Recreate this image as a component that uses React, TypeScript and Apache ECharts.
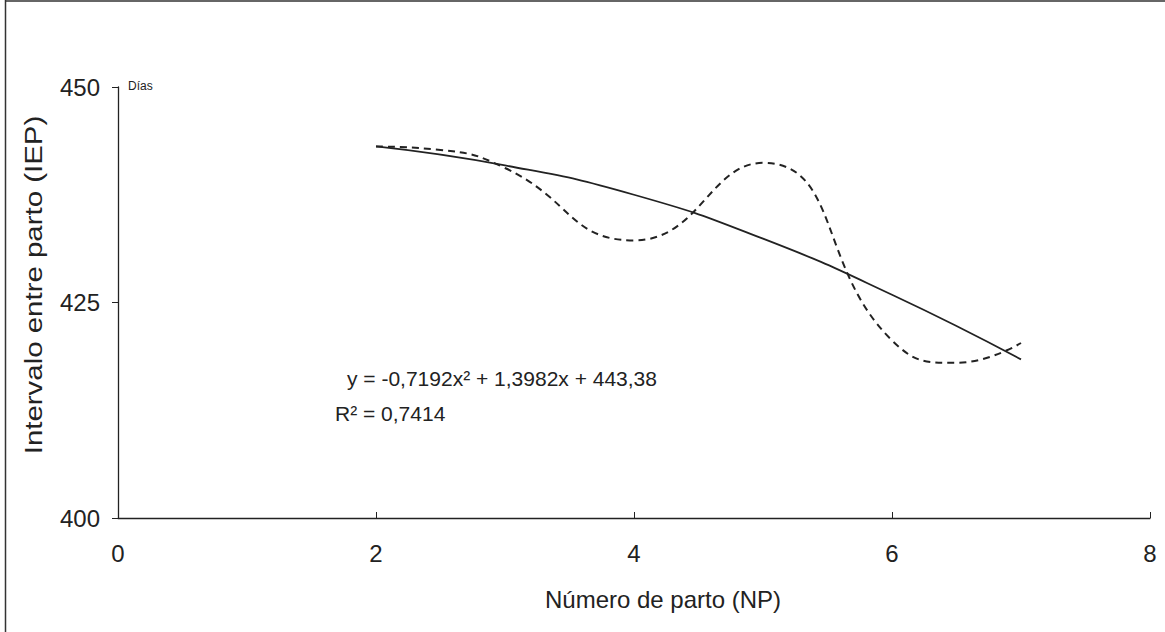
import React, { useEffect, useRef } from "react";
import * as echarts from "echarts";

const xTicks = [0, 2, 4, 6, 8];
const yTicks = [400, 425, 450];
const observedX = [2, 2.5, 3, 4, 5, 6, 6.5, 7];
const observedY = [443.1, 442.7, 440.6, 432.2, 441.2, 420.6, 418.0, 420.3];
// Polynomial trend line (solid)
const trendX = [2, 3, 4, 5, 6, 7];
const trendY = [443.1, 440.9, 437.5, 432.4, 425.9, 418.4];

const equationText = "y = -0,7192x² + 1,3982x + 443,38";
const r2Text = "R² = 0,7414";
const xTitle = "Número de parto (NP)";
const yTitle = "Intervalo entre parto (IEP)";
const unitText = "Días";

export default function App() {
  const ref = useRef<HTMLDivElement>(null);
  useEffect(() => {
    if (!ref.current) return;
    const chart = echarts.init(ref.current, null, { renderer: "svg" });
    const font = "'Liberation Sans', Arial, sans-serif";
    const ink = "#222";
    chart.setOption({
      animation: false,
      backgroundColor: "#fff",
      textStyle: { fontFamily: font },
      grid: { left: 118, right: 15, top: 87, bottom: 114 },
      xAxis: {
        type: "value",
        min: xTicks[0],
        max: xTicks[xTicks.length - 1],
        interval: 2,
        axisLine: { lineStyle: { color: ink, width: 1.3 } },
        axisTick: { inside: true, length: 6, lineStyle: { color: ink } },
        axisLabel: { fontSize: 24, color: ink, margin: 23, fontFamily: font },
        splitLine: { show: false },
      },
      yAxis: {
        type: "value",
        min: yTicks[0],
        max: yTicks[yTicks.length - 1],
        interval: 25,
        axisLine: { show: true, lineStyle: { color: ink, width: 1.3 } },
        axisTick: { show: true, inside: false, length: 6, lineStyle: { color: ink } },
        axisLabel: { fontSize: 24, color: ink, margin: 18, fontFamily: font },
        splitLine: { show: false },
      },
      series: [
        {
          type: "line",
          name: "Observado",
          data: observedX.map((x, i) => [x, observedY[i]]),
          smooth: 0.5,
          showSymbol: false,
          symbol: "none",
          lineStyle: { color: ink, width: 2, type: [7, 5] },
        },
        {
          type: "line",
          name: "Tendencia",
          data: trendX.map((x, i) => [x, trendY[i]]),
          smooth: 0.5,
          showSymbol: false,
          symbol: "none",
          lineStyle: { color: ink, width: 1.8, type: "solid" },
        },
      ],
      graphic: [
        { type: "line", shape: { x1: 5.5, y1: 0, x2: 5.5, y2: 632 }, style: { stroke: "#333", lineWidth: 1.5 } },
        { type: "line", shape: { x1: 5, y1: 1, x2: 1165, y2: 1 }, style: { stroke: "#333", lineWidth: 1.5 } },
        {
          type: "text",
          x: 128,
          y: 86,
          style: { text: unitText, fill: ink, font: `12px ${font}`, verticalAlign: "middle" },
        },
        {
          type: "text",
          x: 347,
          y: 378,
          style: { text: equationText, fill: ink, font: `21px ${font}`, verticalAlign: "middle" },
        },
        {
          type: "text",
          x: 335,
          y: 413,
          style: { text: r2Text, fill: ink, font: `21px ${font}`, verticalAlign: "middle" },
        },
        {
          type: "text",
          x: 663,
          y: 599,
          style: { text: xTitle, fill: ink, font: `24px ${font}`, align: "center", verticalAlign: "middle" },
        },
        {
          type: "text",
          x: 34,
          y: 285,
          rotation: Math.PI / 2,
          scaleX: 1.28,
          style: { text: yTitle, fill: ink, font: `23px ${font}`, align: "center", verticalAlign: "middle" },
        },
      ],
    });
    return () => chart.dispose();
  }, []);
  return (
    <div
      ref={ref}
      style={{ position: "absolute", left: 0, top: 0, width: 1165, height: 632 }}
    />
  );
}
